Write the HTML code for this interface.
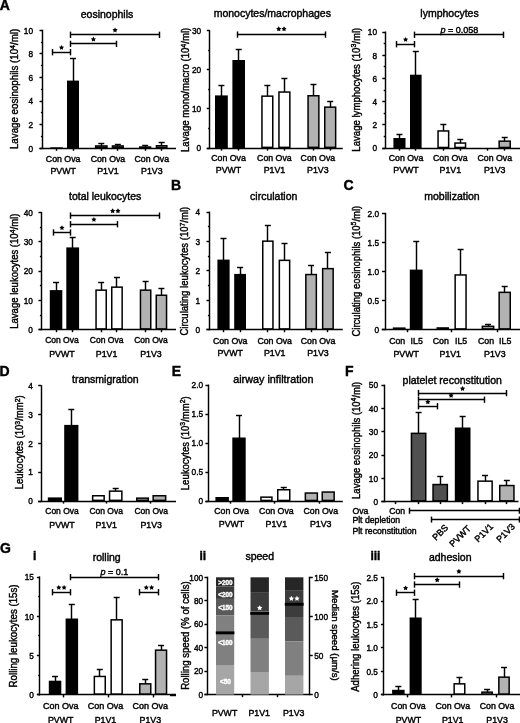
<!DOCTYPE html>
<html><head><meta charset="utf-8"><style>
html,body{margin:0;padding:0;background:#fff;}
body{width:520px;height:723px;overflow:hidden;}
svg{display:block;font-family:"Liberation Sans", sans-serif;filter:grayscale(1) blur(0.3px);}
text{stroke:#000;stroke-width:0.42px;}
</style></head><body>
<svg width="520" height="723" viewBox="0 0 520 723">
<rect width="520" height="723" fill="#fff"/>
<text x="-0.2" y="9.5" font-size="14" text-anchor="start" font-weight="bold" fill="#000" style="stroke:#000" >A</text>
<text x="171" y="189.7" font-size="14" text-anchor="start" font-weight="bold" fill="#000" style="stroke:#000" >B</text>
<text x="343.4" y="190" font-size="14" text-anchor="start" font-weight="bold" fill="#000" style="stroke:#000" >C</text>
<text x="-0.4" y="375.6" font-size="14" text-anchor="start" font-weight="bold" fill="#000" style="stroke:#000" >D</text>
<text x="171.8" y="375.9" font-size="14" text-anchor="start" font-weight="bold" fill="#000" style="stroke:#000" >E</text>
<text x="345" y="375.9" font-size="14" text-anchor="start" font-weight="bold" fill="#000" style="stroke:#000" >F</text>
<text x="0" y="553.1" font-size="14" text-anchor="start" font-weight="bold" fill="#000" style="stroke:#000" >G</text>
<text x="33" y="559.6" font-size="12" text-anchor="start" font-weight="bold" fill="#000" style="stroke:#000" >i</text>
<text x="199.4" y="559.6" font-size="12" text-anchor="start" font-weight="bold" fill="#000" style="stroke:#000" >ii</text>
<text x="370.4" y="559.7" font-size="12" text-anchor="start" font-weight="bold" fill="#000" style="stroke:#000" >iii</text>
<text x="107" y="17.5" font-size="10.5" text-anchor="middle" font-weight="normal" fill="#000" style="stroke:#000" >eosinophils</text>
<text x="272.3" y="16.9" font-size="10.5" text-anchor="middle" font-weight="normal" fill="#000" style="stroke:#000" >monocytes/macrophages</text>
<text x="449.5" y="16.9" font-size="10.5" text-anchor="middle" font-weight="normal" fill="#000" style="stroke:#000" >lymphocytes</text>
<text x="105.2" y="200" font-size="10.5" text-anchor="middle" font-weight="normal" fill="#000" style="stroke:#000" >total leukocytes</text>
<text x="273.7" y="199.5" font-size="10.5" text-anchor="middle" font-weight="normal" fill="#000" style="stroke:#000" >circulation</text>
<text x="452" y="199.5" font-size="10.5" text-anchor="middle" font-weight="normal" fill="#000" style="stroke:#000" >mobilization</text>
<text x="105.3" y="383.1" font-size="10.5" text-anchor="middle" font-weight="normal" fill="#000" style="stroke:#000" >transmigration</text>
<text x="273.4" y="383.1" font-size="10.8" text-anchor="middle" font-weight="normal" fill="#000" style="stroke:#000" >airway infiltration</text>
<text x="452.2" y="383.7" font-size="10.5" text-anchor="middle" font-weight="normal" fill="#000" style="stroke:#000" >platelet reconstitution</text>
<text x="106.7" y="561.3" font-size="10.5" text-anchor="middle" font-weight="normal" fill="#000" style="stroke:#000" >rolling</text>
<text x="259.7" y="560.3" font-size="10.5" text-anchor="middle" font-weight="normal" fill="#000" style="stroke:#000" >speed</text>
<text x="450.2" y="561" font-size="10.5" text-anchor="middle" font-weight="normal" fill="#000" style="stroke:#000" >adhesion</text>
<line x1="42.5" y1="29.7" x2="42.5" y2="148.9" stroke="#000" stroke-width="1.45"/>
<line x1="39.5" y1="148.5" x2="42.5" y2="148.5" stroke="#000" stroke-width="1.45"/>
<text x="33" y="151.5" font-size="9" text-anchor="end" font-weight="normal" fill="#000" style="stroke:#000" textLength="4.6" lengthAdjust="spacingAndGlyphs" >0</text>
<line x1="39.5" y1="124.5" x2="42.5" y2="124.5" stroke="#000" stroke-width="1.45"/>
<text x="33" y="127.9" font-size="9" text-anchor="end" font-weight="normal" fill="#000" style="stroke:#000" textLength="4.6" lengthAdjust="spacingAndGlyphs" >2</text>
<line x1="39.5" y1="101.5" x2="42.5" y2="101.5" stroke="#000" stroke-width="1.45"/>
<text x="33" y="104.3" font-size="9" text-anchor="end" font-weight="normal" fill="#000" style="stroke:#000" textLength="4.6" lengthAdjust="spacingAndGlyphs" >4</text>
<line x1="39.5" y1="77.5" x2="42.5" y2="77.5" stroke="#000" stroke-width="1.45"/>
<text x="33" y="80.7" font-size="9" text-anchor="end" font-weight="normal" fill="#000" style="stroke:#000" textLength="4.6" lengthAdjust="spacingAndGlyphs" >6</text>
<line x1="39.5" y1="53.5" x2="42.5" y2="53.5" stroke="#000" stroke-width="1.45"/>
<text x="33" y="57.1" font-size="9" text-anchor="end" font-weight="normal" fill="#000" style="stroke:#000" textLength="4.6" lengthAdjust="spacingAndGlyphs" >8</text>
<line x1="39.5" y1="30.5" x2="42.5" y2="30.5" stroke="#000" stroke-width="1.45"/>
<text x="33" y="33.5" font-size="9" text-anchor="end" font-weight="normal" fill="#000" style="stroke:#000" textLength="9.2" lengthAdjust="spacingAndGlyphs" >10</text>
<line x1="40.9" y1="136.5" x2="42.5" y2="136.5" stroke="#000" stroke-width="1.45"/>
<line x1="40.9" y1="112.5" x2="42.5" y2="112.5" stroke="#000" stroke-width="1.45"/>
<line x1="40.9" y1="89.5" x2="42.5" y2="89.5" stroke="#000" stroke-width="1.45"/>
<line x1="40.9" y1="65.5" x2="42.5" y2="65.5" stroke="#000" stroke-width="1.45"/>
<line x1="40.9" y1="42.5" x2="42.5" y2="42.5" stroke="#000" stroke-width="1.45"/>
<rect x="50.3" y="147.3" width="12.5" height="1" fill="#000"/>
<line x1="73.5" y1="58.5" x2="73.5" y2="81.6" stroke="#000" stroke-width="1.45"/>
<line x1="70" y1="58.5" x2="76" y2="58.5" stroke="#000" stroke-width="1.45"/>
<rect x="67" y="80.6" width="12" height="67.7" fill="#000"/>
<line x1="101.5" y1="143.6" x2="101.5" y2="146.2" stroke="#000" stroke-width="1.45"/>
<line x1="98.3" y1="143.5" x2="104.3" y2="143.5" stroke="#000" stroke-width="1.45"/>
<rect x="95.65" y="145.95" width="11.3" height="1.6" fill="#fff" stroke="#000" stroke-width="1.5"/>
<line x1="117.5" y1="144.2" x2="117.5" y2="146.2" stroke="#000" stroke-width="1.45"/>
<line x1="114.85" y1="144.5" x2="120.85" y2="144.5" stroke="#000" stroke-width="1.45"/>
<rect x="112.45" y="145.95" width="10.8" height="1.6" fill="#fff" stroke="#000" stroke-width="1.5"/>
<line x1="145.5" y1="145.5" x2="145.5" y2="147.3" stroke="#000" stroke-width="1.45"/>
<line x1="142.15" y1="145.5" x2="148.15" y2="145.5" stroke="#000" stroke-width="1.45"/>
<rect x="139.75" y="147.05" width="10.8" height="0.5" fill="#b2b2b2" stroke="#000" stroke-width="1.5"/>
<line x1="161.5" y1="142.3" x2="161.5" y2="146" stroke="#000" stroke-width="1.45"/>
<line x1="158.65" y1="142.5" x2="164.65" y2="142.5" stroke="#000" stroke-width="1.45"/>
<rect x="156.45" y="145.75" width="10.4" height="1.8" fill="#b2b2b2" stroke="#000" stroke-width="1.5"/>
<line x1="39.5" y1="148.5" x2="176" y2="148.5" stroke="#000" stroke-width="1.45"/>
<line x1="56.5" y1="148.3" x2="56.5" y2="150.8" stroke="#000" stroke-width="1.45"/>
<line x1="73.5" y1="148.3" x2="73.5" y2="150.8" stroke="#000" stroke-width="1.45"/>
<line x1="101.5" y1="148.3" x2="101.5" y2="150.8" stroke="#000" stroke-width="1.45"/>
<line x1="117.5" y1="148.3" x2="117.5" y2="150.8" stroke="#000" stroke-width="1.45"/>
<line x1="145.5" y1="148.3" x2="145.5" y2="150.8" stroke="#000" stroke-width="1.45"/>
<line x1="161.5" y1="148.3" x2="161.5" y2="150.8" stroke="#000" stroke-width="1.45"/>
<text x="63.15" y="161.6" font-size="8.8" text-anchor="middle" font-weight="normal" fill="#000" style="stroke:#000" textLength="34.6" lengthAdjust="spacingAndGlyphs" >Con Ova</text>
<text x="63.15" y="174" font-size="8.8" text-anchor="middle" font-weight="normal" fill="#000" style="stroke:#000" >PVWT</text>
<text x="107.95" y="161.6" font-size="8.8" text-anchor="middle" font-weight="normal" fill="#000" style="stroke:#000" textLength="34.6" lengthAdjust="spacingAndGlyphs" >Con Ova</text>
<text x="107.95" y="174" font-size="8.8" text-anchor="middle" font-weight="normal" fill="#000" style="stroke:#000" >P1V1</text>
<text x="151.8" y="161.6" font-size="8.8" text-anchor="middle" font-weight="normal" fill="#000" style="stroke:#000" textLength="34.6" lengthAdjust="spacingAndGlyphs" >Con Ova</text>
<text x="151.8" y="174" font-size="8.8" text-anchor="middle" font-weight="normal" fill="#000" style="stroke:#000" >P1V3</text>
<line x1="52.4" y1="52.5" x2="70.6" y2="52.5" stroke="#000" stroke-width="1.45"/>
<line x1="52.5" y1="49.05" x2="52.5" y2="55.35" stroke="#000" stroke-width="1.45"/>
<line x1="70.5" y1="49.05" x2="70.5" y2="55.35" stroke="#000" stroke-width="1.45"/>
<polygon points="61.5,44.9 62.33,46.46 64.07,46.77 62.84,48.03 63.09,49.78 61.5,49 59.91,49.78 60.16,48.03 58.93,46.77 60.67,46.46" fill="#000"/>
<line x1="70.6" y1="43.5" x2="116.2" y2="43.5" stroke="#000" stroke-width="1.45"/>
<line x1="70.5" y1="40.75" x2="70.5" y2="47.05" stroke="#000" stroke-width="1.45"/>
<line x1="116.5" y1="40.75" x2="116.5" y2="47.05" stroke="#000" stroke-width="1.45"/>
<polygon points="93.4,36.6 94.23,38.16 95.97,38.47 94.74,39.73 94.99,41.48 93.4,40.7 91.81,41.48 92.06,39.73 90.83,38.47 92.57,38.16" fill="#000"/>
<line x1="70.6" y1="34.5" x2="159.5" y2="34.5" stroke="#000" stroke-width="1.45"/>
<line x1="70.5" y1="31.65" x2="70.5" y2="37.95" stroke="#000" stroke-width="1.45"/>
<line x1="159.5" y1="31.65" x2="159.5" y2="37.95" stroke="#000" stroke-width="1.45"/>
<polygon points="115.05,27.5 115.88,29.06 117.62,29.37 116.39,30.63 116.64,32.38 115.05,31.6 113.46,32.38 113.71,30.63 112.48,29.37 114.22,29.06" fill="#000"/>
<text transform="translate(18.4,88.9) rotate(-90)" font-size="10.2" text-anchor="middle" textLength="120.3" lengthAdjust="spacingAndGlyphs">Lavage eosinophils (10<tspan dy="-3.37" font-size="7.34">4</tspan><tspan dy="3.37">/</tspan>ml)</text>
<line x1="209.5" y1="30" x2="209.5" y2="148.7" stroke="#000" stroke-width="1.45"/>
<line x1="206.8" y1="148.5" x2="209.8" y2="148.5" stroke="#000" stroke-width="1.45"/>
<text x="201.1" y="151.3" font-size="9" text-anchor="end" font-weight="normal" fill="#000" style="stroke:#000" textLength="4.6" lengthAdjust="spacingAndGlyphs" >0</text>
<line x1="206.8" y1="108.5" x2="209.8" y2="108.5" stroke="#000" stroke-width="1.45"/>
<text x="201.1" y="112.13" font-size="9" text-anchor="end" font-weight="normal" fill="#000" style="stroke:#000" textLength="9.2" lengthAdjust="spacingAndGlyphs" >10</text>
<line x1="206.8" y1="69.5" x2="209.8" y2="69.5" stroke="#000" stroke-width="1.45"/>
<text x="201.1" y="72.97" font-size="9" text-anchor="end" font-weight="normal" fill="#000" style="stroke:#000" textLength="9.2" lengthAdjust="spacingAndGlyphs" >20</text>
<line x1="206.8" y1="30.5" x2="209.8" y2="30.5" stroke="#000" stroke-width="1.45"/>
<text x="201.1" y="33.8" font-size="9" text-anchor="end" font-weight="normal" fill="#000" style="stroke:#000" textLength="9.2" lengthAdjust="spacingAndGlyphs" >30</text>
<line x1="208.2" y1="128.5" x2="209.8" y2="128.5" stroke="#000" stroke-width="1.45"/>
<line x1="208.2" y1="89.5" x2="209.8" y2="89.5" stroke="#000" stroke-width="1.45"/>
<line x1="208.2" y1="50.5" x2="209.8" y2="50.5" stroke="#000" stroke-width="1.45"/>
<line x1="221.5" y1="85.4" x2="221.5" y2="96.4" stroke="#000" stroke-width="1.45"/>
<line x1="218.4" y1="85.5" x2="224.4" y2="85.5" stroke="#000" stroke-width="1.45"/>
<rect x="215" y="95.4" width="12.8" height="52.7" fill="#000"/>
<line x1="238.5" y1="49" x2="238.5" y2="61" stroke="#000" stroke-width="1.45"/>
<line x1="235.7" y1="49.5" x2="241.7" y2="49.5" stroke="#000" stroke-width="1.45"/>
<rect x="232.4" y="60" width="12.6" height="88.1" fill="#000"/>
<line x1="267.5" y1="85.8" x2="267.5" y2="96.4" stroke="#000" stroke-width="1.45"/>
<line x1="264.35" y1="85.5" x2="270.35" y2="85.5" stroke="#000" stroke-width="1.45"/>
<rect x="261.95" y="96.15" width="10.8" height="51.2" fill="#fff" stroke="#000" stroke-width="1.5"/>
<line x1="284.5" y1="78" x2="284.5" y2="92.3" stroke="#000" stroke-width="1.45"/>
<line x1="281.4" y1="78.5" x2="287.4" y2="78.5" stroke="#000" stroke-width="1.45"/>
<rect x="278.95" y="92.05" width="10.9" height="55.3" fill="#fff" stroke="#000" stroke-width="1.5"/>
<line x1="313.5" y1="84.3" x2="313.5" y2="96" stroke="#000" stroke-width="1.45"/>
<line x1="310.45" y1="84.5" x2="316.45" y2="84.5" stroke="#000" stroke-width="1.45"/>
<rect x="308.05" y="95.75" width="10.8" height="51.6" fill="#b2b2b2" stroke="#000" stroke-width="1.5"/>
<line x1="330.5" y1="101.2" x2="330.5" y2="107.4" stroke="#000" stroke-width="1.45"/>
<line x1="327.2" y1="101.5" x2="333.2" y2="101.5" stroke="#000" stroke-width="1.45"/>
<rect x="324.75" y="107.15" width="10.9" height="40.2" fill="#b2b2b2" stroke="#000" stroke-width="1.5"/>
<line x1="206.8" y1="148.5" x2="342.8" y2="148.5" stroke="#000" stroke-width="1.45"/>
<line x1="221.5" y1="148.1" x2="221.5" y2="150.6" stroke="#000" stroke-width="1.45"/>
<line x1="238.5" y1="148.1" x2="238.5" y2="150.6" stroke="#000" stroke-width="1.45"/>
<line x1="267.5" y1="148.1" x2="267.5" y2="150.6" stroke="#000" stroke-width="1.45"/>
<line x1="284.5" y1="148.1" x2="284.5" y2="150.6" stroke="#000" stroke-width="1.45"/>
<line x1="313.5" y1="148.1" x2="313.5" y2="150.6" stroke="#000" stroke-width="1.45"/>
<line x1="330.5" y1="148.1" x2="330.5" y2="150.6" stroke="#000" stroke-width="1.45"/>
<text x="228.5" y="161.3" font-size="8.8" text-anchor="middle" font-weight="normal" fill="#000" style="stroke:#000" textLength="34.6" lengthAdjust="spacingAndGlyphs" >Con Ova</text>
<text x="228.5" y="173.2" font-size="8.8" text-anchor="middle" font-weight="normal" fill="#000" style="stroke:#000" >PVWT</text>
<text x="274.4" y="161.3" font-size="8.8" text-anchor="middle" font-weight="normal" fill="#000" style="stroke:#000" textLength="34.6" lengthAdjust="spacingAndGlyphs" >Con Ova</text>
<text x="274.4" y="173.2" font-size="8.8" text-anchor="middle" font-weight="normal" fill="#000" style="stroke:#000" >P1V1</text>
<text x="317.85" y="161.3" font-size="8.8" text-anchor="middle" font-weight="normal" fill="#000" style="stroke:#000" textLength="34.6" lengthAdjust="spacingAndGlyphs" >Con Ova</text>
<text x="317.85" y="173.2" font-size="8.8" text-anchor="middle" font-weight="normal" fill="#000" style="stroke:#000" >P1V3</text>
<line x1="237.3" y1="34.5" x2="325.5" y2="34.5" stroke="#000" stroke-width="1.45"/>
<line x1="237.5" y1="31.45" x2="237.5" y2="37.75" stroke="#000" stroke-width="1.45"/>
<line x1="325.5" y1="31.45" x2="325.5" y2="37.75" stroke="#000" stroke-width="1.45"/>
<polygon points="278.75,26.3 279.58,27.86 281.32,28.17 280.09,29.43 280.34,31.18 278.75,30.4 277.16,31.18 277.41,29.43 276.18,28.17 277.92,27.86" fill="#000"/>
<polygon points="284.05,26.3 284.88,27.86 286.62,28.17 285.39,29.43 285.64,31.18 284.05,30.4 282.46,31.18 282.71,29.43 281.48,28.17 283.22,27.86" fill="#000"/>
<text transform="translate(189.1,89.85) rotate(-90)" font-size="10.2" text-anchor="middle" textLength="124.3" lengthAdjust="spacingAndGlyphs">Lavage mono/macro (10<tspan dy="-3.37" font-size="7.34">4</tspan><tspan dy="3.37">/</tspan>ml)</text>
<line x1="385.5" y1="31.5" x2="385.5" y2="148.8" stroke="#000" stroke-width="1.45"/>
<line x1="382.3" y1="148.5" x2="385.3" y2="148.5" stroke="#000" stroke-width="1.45"/>
<text x="377" y="151.4" font-size="9" text-anchor="end" font-weight="normal" fill="#000" style="stroke:#000" textLength="4.6" lengthAdjust="spacingAndGlyphs" >0</text>
<line x1="382.3" y1="124.5" x2="385.3" y2="124.5" stroke="#000" stroke-width="1.45"/>
<text x="377" y="128.18" font-size="9" text-anchor="end" font-weight="normal" fill="#000" style="stroke:#000" textLength="4.6" lengthAdjust="spacingAndGlyphs" >2</text>
<line x1="382.3" y1="101.5" x2="385.3" y2="101.5" stroke="#000" stroke-width="1.45"/>
<text x="377" y="104.96" font-size="9" text-anchor="end" font-weight="normal" fill="#000" style="stroke:#000" textLength="4.6" lengthAdjust="spacingAndGlyphs" >4</text>
<line x1="382.3" y1="78.5" x2="385.3" y2="78.5" stroke="#000" stroke-width="1.45"/>
<text x="377" y="81.74" font-size="9" text-anchor="end" font-weight="normal" fill="#000" style="stroke:#000" textLength="4.6" lengthAdjust="spacingAndGlyphs" >6</text>
<line x1="382.3" y1="55.5" x2="385.3" y2="55.5" stroke="#000" stroke-width="1.45"/>
<text x="377" y="58.52" font-size="9" text-anchor="end" font-weight="normal" fill="#000" style="stroke:#000" textLength="4.6" lengthAdjust="spacingAndGlyphs" >8</text>
<line x1="382.3" y1="32.5" x2="385.3" y2="32.5" stroke="#000" stroke-width="1.45"/>
<text x="377" y="35.3" font-size="9" text-anchor="end" font-weight="normal" fill="#000" style="stroke:#000" textLength="9.2" lengthAdjust="spacingAndGlyphs" >10</text>
<line x1="383.7" y1="136.5" x2="385.3" y2="136.5" stroke="#000" stroke-width="1.45"/>
<line x1="383.7" y1="113.5" x2="385.3" y2="113.5" stroke="#000" stroke-width="1.45"/>
<line x1="383.7" y1="90.5" x2="385.3" y2="90.5" stroke="#000" stroke-width="1.45"/>
<line x1="383.7" y1="66.5" x2="385.3" y2="66.5" stroke="#000" stroke-width="1.45"/>
<line x1="383.7" y1="43.5" x2="385.3" y2="43.5" stroke="#000" stroke-width="1.45"/>
<line x1="399.5" y1="134.5" x2="399.5" y2="139" stroke="#000" stroke-width="1.45"/>
<line x1="396.45" y1="134.5" x2="402.45" y2="134.5" stroke="#000" stroke-width="1.45"/>
<rect x="393.4" y="138" width="12.1" height="10.2" fill="#000"/>
<line x1="415.5" y1="51.2" x2="415.5" y2="75.7" stroke="#000" stroke-width="1.45"/>
<line x1="412.8" y1="51.5" x2="418.8" y2="51.5" stroke="#000" stroke-width="1.45"/>
<rect x="410" y="74.7" width="11.6" height="73.5" fill="#000"/>
<line x1="443.5" y1="124.5" x2="443.5" y2="131.2" stroke="#000" stroke-width="1.45"/>
<line x1="440.35" y1="124.5" x2="446.35" y2="124.5" stroke="#000" stroke-width="1.45"/>
<rect x="438.05" y="130.95" width="10.6" height="16.5" fill="#fff" stroke="#000" stroke-width="1.5"/>
<line x1="460.5" y1="139.6" x2="460.5" y2="143.3" stroke="#000" stroke-width="1.45"/>
<line x1="457.25" y1="139.5" x2="463.25" y2="139.5" stroke="#000" stroke-width="1.45"/>
<rect x="454.95" y="143.05" width="10.6" height="4.4" fill="#fff" stroke="#000" stroke-width="1.5"/>
<line x1="504.5" y1="137.8" x2="504.5" y2="141.4" stroke="#000" stroke-width="1.45"/>
<line x1="501.7" y1="137.5" x2="507.7" y2="137.5" stroke="#000" stroke-width="1.45"/>
<rect x="499.15" y="141.15" width="11.1" height="6.3" fill="#b2b2b2" stroke="#000" stroke-width="1.5"/>
<line x1="382.3" y1="148.5" x2="520" y2="148.5" stroke="#000" stroke-width="1.45"/>
<line x1="399.5" y1="148.2" x2="399.5" y2="150.7" stroke="#000" stroke-width="1.45"/>
<line x1="415.5" y1="148.2" x2="415.5" y2="150.7" stroke="#000" stroke-width="1.45"/>
<line x1="443.5" y1="148.2" x2="443.5" y2="150.7" stroke="#000" stroke-width="1.45"/>
<line x1="460.5" y1="148.2" x2="460.5" y2="150.7" stroke="#000" stroke-width="1.45"/>
<line x1="487.5" y1="148.2" x2="487.5" y2="150.7" stroke="#000" stroke-width="1.45"/>
<line x1="504.5" y1="148.2" x2="504.5" y2="150.7" stroke="#000" stroke-width="1.45"/>
<text x="406" y="161.3" font-size="8.8" text-anchor="middle" font-weight="normal" fill="#000" style="stroke:#000" textLength="34.6" lengthAdjust="spacingAndGlyphs" >Con Ova</text>
<text x="406" y="173.2" font-size="8.8" text-anchor="middle" font-weight="normal" fill="#000" style="stroke:#000" >PVWT</text>
<text x="450.3" y="161.3" font-size="8.8" text-anchor="middle" font-weight="normal" fill="#000" style="stroke:#000" textLength="34.6" lengthAdjust="spacingAndGlyphs" >Con Ova</text>
<text x="450.3" y="173.2" font-size="8.8" text-anchor="middle" font-weight="normal" fill="#000" style="stroke:#000" >P1V1</text>
<text x="494.75" y="161.3" font-size="8.8" text-anchor="middle" font-weight="normal" fill="#000" style="stroke:#000" textLength="34.6" lengthAdjust="spacingAndGlyphs" >Con Ova</text>
<text x="494.75" y="173.2" font-size="8.8" text-anchor="middle" font-weight="normal" fill="#000" style="stroke:#000" >P1V3</text>
<line x1="396.3" y1="44.5" x2="414.9" y2="44.5" stroke="#000" stroke-width="1.45"/>
<line x1="396.5" y1="41.05" x2="396.5" y2="47.35" stroke="#000" stroke-width="1.45"/>
<line x1="414.5" y1="41.05" x2="414.5" y2="47.35" stroke="#000" stroke-width="1.45"/>
<polygon points="405.6,36.9 406.43,38.46 408.17,38.77 406.94,40.03 407.19,41.78 405.6,41 404.01,41.78 404.26,40.03 403.03,38.77 404.77,38.46" fill="#000"/>
<line x1="414.9" y1="34.5" x2="503.2" y2="34.5" stroke="#000" stroke-width="1.45"/>
<line x1="414.5" y1="31.65" x2="414.5" y2="37.95" stroke="#000" stroke-width="1.45"/>
<line x1="503.5" y1="31.65" x2="503.5" y2="37.95" stroke="#000" stroke-width="1.45"/>
<text x="459.4" y="32.7" font-size="9" text-anchor="middle" font-weight="normal" fill="#000" style="stroke:#000" ><tspan font-style="italic">p</tspan> = 0.058</text>
<text transform="translate(359.5,89.7) rotate(-90)" font-size="10.2" text-anchor="middle" textLength="124" lengthAdjust="spacingAndGlyphs">Lavage lymphocytes (10<tspan dy="-3.37" font-size="7.34">3</tspan><tspan dy="3.37">/</tspan>ml)</text>
<line x1="41.5" y1="212" x2="41.5" y2="330.3" stroke="#000" stroke-width="1.45"/>
<line x1="38.5" y1="329.5" x2="41.5" y2="329.5" stroke="#000" stroke-width="1.45"/>
<text x="32.9" y="332.9" font-size="9" text-anchor="end" font-weight="normal" fill="#000" style="stroke:#000" textLength="4.6" lengthAdjust="spacingAndGlyphs" >0</text>
<line x1="38.5" y1="300.5" x2="41.5" y2="300.5" stroke="#000" stroke-width="1.45"/>
<text x="32.9" y="303.62" font-size="9" text-anchor="end" font-weight="normal" fill="#000" style="stroke:#000" textLength="9.2" lengthAdjust="spacingAndGlyphs" >10</text>
<line x1="38.5" y1="271.5" x2="41.5" y2="271.5" stroke="#000" stroke-width="1.45"/>
<text x="32.9" y="274.35" font-size="9" text-anchor="end" font-weight="normal" fill="#000" style="stroke:#000" textLength="9.2" lengthAdjust="spacingAndGlyphs" >20</text>
<line x1="38.5" y1="241.5" x2="41.5" y2="241.5" stroke="#000" stroke-width="1.45"/>
<text x="32.9" y="245.07" font-size="9" text-anchor="end" font-weight="normal" fill="#000" style="stroke:#000" textLength="9.2" lengthAdjust="spacingAndGlyphs" >30</text>
<line x1="38.5" y1="212.5" x2="41.5" y2="212.5" stroke="#000" stroke-width="1.45"/>
<text x="32.9" y="215.8" font-size="9" text-anchor="end" font-weight="normal" fill="#000" style="stroke:#000" textLength="9.2" lengthAdjust="spacingAndGlyphs" >40</text>
<line x1="39.9" y1="315.5" x2="41.5" y2="315.5" stroke="#000" stroke-width="1.45"/>
<line x1="39.9" y1="285.5" x2="41.5" y2="285.5" stroke="#000" stroke-width="1.45"/>
<line x1="39.9" y1="256.5" x2="41.5" y2="256.5" stroke="#000" stroke-width="1.45"/>
<line x1="39.9" y1="227.5" x2="41.5" y2="227.5" stroke="#000" stroke-width="1.45"/>
<line x1="56.5" y1="282.7" x2="56.5" y2="291.1" stroke="#000" stroke-width="1.45"/>
<line x1="53.05" y1="282.5" x2="59.05" y2="282.5" stroke="#000" stroke-width="1.45"/>
<rect x="49.8" y="290.1" width="12.5" height="39.6" fill="#000"/>
<line x1="72.5" y1="237.9" x2="72.5" y2="248.4" stroke="#000" stroke-width="1.45"/>
<line x1="69.7" y1="237.5" x2="75.7" y2="237.5" stroke="#000" stroke-width="1.45"/>
<rect x="66.3" y="247.4" width="12.8" height="82.3" fill="#000"/>
<line x1="101.5" y1="282.7" x2="101.5" y2="290.4" stroke="#000" stroke-width="1.45"/>
<line x1="98.15" y1="282.5" x2="104.15" y2="282.5" stroke="#000" stroke-width="1.45"/>
<rect x="96.05" y="290.15" width="10.2" height="38.8" fill="#fff" stroke="#000" stroke-width="1.5"/>
<line x1="116.5" y1="277.3" x2="116.5" y2="287.4" stroke="#000" stroke-width="1.45"/>
<line x1="113.95" y1="277.5" x2="119.95" y2="277.5" stroke="#000" stroke-width="1.45"/>
<rect x="111.75" y="287.15" width="10.4" height="41.8" fill="#fff" stroke="#000" stroke-width="1.5"/>
<line x1="145.5" y1="281.7" x2="145.5" y2="290.4" stroke="#000" stroke-width="1.45"/>
<line x1="142.6" y1="281.5" x2="148.6" y2="281.5" stroke="#000" stroke-width="1.45"/>
<rect x="140.45" y="290.15" width="10.3" height="38.8" fill="#b2b2b2" stroke="#000" stroke-width="1.5"/>
<line x1="161.5" y1="288.8" x2="161.5" y2="295.5" stroke="#000" stroke-width="1.45"/>
<line x1="158.4" y1="288.5" x2="164.4" y2="288.5" stroke="#000" stroke-width="1.45"/>
<rect x="156.25" y="295.25" width="10.3" height="33.7" fill="#b2b2b2" stroke="#000" stroke-width="1.5"/>
<line x1="38.5" y1="329.5" x2="176" y2="329.5" stroke="#000" stroke-width="1.45"/>
<line x1="56.5" y1="329.7" x2="56.5" y2="332.2" stroke="#000" stroke-width="1.45"/>
<line x1="72.5" y1="329.7" x2="72.5" y2="332.2" stroke="#000" stroke-width="1.45"/>
<line x1="101.5" y1="329.7" x2="101.5" y2="332.2" stroke="#000" stroke-width="1.45"/>
<line x1="116.5" y1="329.7" x2="116.5" y2="332.2" stroke="#000" stroke-width="1.45"/>
<line x1="145.5" y1="329.7" x2="145.5" y2="332.2" stroke="#000" stroke-width="1.45"/>
<line x1="161.5" y1="329.7" x2="161.5" y2="332.2" stroke="#000" stroke-width="1.45"/>
<text x="61.95" y="343" font-size="8.8" text-anchor="middle" font-weight="normal" fill="#000" style="stroke:#000" textLength="33.6" lengthAdjust="spacingAndGlyphs" >Con Ova</text>
<text x="61.95" y="356.5" font-size="8.8" text-anchor="middle" font-weight="normal" fill="#000" style="stroke:#000" >PVWT</text>
<text x="106.6" y="343" font-size="8.8" text-anchor="middle" font-weight="normal" fill="#000" style="stroke:#000" textLength="33.6" lengthAdjust="spacingAndGlyphs" >Con Ova</text>
<text x="106.6" y="356.5" font-size="8.8" text-anchor="middle" font-weight="normal" fill="#000" style="stroke:#000" >P1V1</text>
<text x="151" y="343" font-size="8.8" text-anchor="middle" font-weight="normal" fill="#000" style="stroke:#000" textLength="33.6" lengthAdjust="spacingAndGlyphs" >Con Ova</text>
<text x="151" y="356.5" font-size="8.8" text-anchor="middle" font-weight="normal" fill="#000" style="stroke:#000" >P1V3</text>
<line x1="53.2" y1="232.5" x2="70.7" y2="232.5" stroke="#000" stroke-width="1.45"/>
<line x1="53.5" y1="229.35" x2="53.5" y2="235.65" stroke="#000" stroke-width="1.45"/>
<line x1="70.5" y1="229.35" x2="70.5" y2="235.65" stroke="#000" stroke-width="1.45"/>
<polygon points="61.95,225.2 62.78,226.76 64.52,227.07 63.29,228.33 63.54,230.08 61.95,229.3 60.36,230.08 60.61,228.33 59.38,227.07 61.12,226.76" fill="#000"/>
<line x1="70.7" y1="224.5" x2="117.1" y2="224.5" stroke="#000" stroke-width="1.45"/>
<line x1="70.5" y1="221.05" x2="70.5" y2="227.35" stroke="#000" stroke-width="1.45"/>
<line x1="117.5" y1="221.05" x2="117.5" y2="227.35" stroke="#000" stroke-width="1.45"/>
<polygon points="93.9,216.9 94.73,218.46 96.47,218.77 95.24,220.03 95.49,221.78 93.9,221 92.31,221.78 92.56,220.03 91.33,218.77 93.07,218.46" fill="#000"/>
<line x1="70.7" y1="215.5" x2="159.9" y2="215.5" stroke="#000" stroke-width="1.45"/>
<line x1="70.5" y1="212.45" x2="70.5" y2="218.75" stroke="#000" stroke-width="1.45"/>
<line x1="159.5" y1="212.45" x2="159.5" y2="218.75" stroke="#000" stroke-width="1.45"/>
<polygon points="112.65,208.3 113.48,209.86 115.22,210.17 113.99,211.43 114.24,213.18 112.65,212.4 111.06,213.18 111.31,211.43 110.08,210.17 111.82,209.86" fill="#000"/>
<polygon points="117.95,208.3 118.78,209.86 120.52,210.17 119.29,211.43 119.54,213.18 117.95,212.4 116.36,213.18 116.61,211.43 115.38,210.17 117.12,209.86" fill="#000"/>
<text transform="translate(18.4,271.2) rotate(-90)" font-size="10.2" text-anchor="middle" textLength="115.2" lengthAdjust="spacingAndGlyphs">Lavage leukocytes (10<tspan dy="-3.37" font-size="7.34">4</tspan><tspan dy="3.37">/</tspan>ml)</text>
<line x1="209.5" y1="211.6" x2="209.5" y2="330.3" stroke="#000" stroke-width="1.45"/>
<line x1="206.5" y1="329.5" x2="209.5" y2="329.5" stroke="#000" stroke-width="1.45"/>
<text x="200.2" y="332.9" font-size="9" text-anchor="end" font-weight="normal" fill="#000" style="stroke:#000" textLength="4.6" lengthAdjust="spacingAndGlyphs" >0</text>
<line x1="206.5" y1="300.5" x2="209.5" y2="300.5" stroke="#000" stroke-width="1.45"/>
<text x="200.2" y="303.52" font-size="9" text-anchor="end" font-weight="normal" fill="#000" style="stroke:#000" textLength="4.6" lengthAdjust="spacingAndGlyphs" >1</text>
<line x1="206.5" y1="270.5" x2="209.5" y2="270.5" stroke="#000" stroke-width="1.45"/>
<text x="200.2" y="274.15" font-size="9" text-anchor="end" font-weight="normal" fill="#000" style="stroke:#000" textLength="4.6" lengthAdjust="spacingAndGlyphs" >2</text>
<line x1="206.5" y1="241.5" x2="209.5" y2="241.5" stroke="#000" stroke-width="1.45"/>
<text x="200.2" y="244.77" font-size="9" text-anchor="end" font-weight="normal" fill="#000" style="stroke:#000" textLength="4.6" lengthAdjust="spacingAndGlyphs" >3</text>
<line x1="206.5" y1="212.5" x2="209.5" y2="212.5" stroke="#000" stroke-width="1.45"/>
<text x="200.2" y="215.4" font-size="9" text-anchor="end" font-weight="normal" fill="#000" style="stroke:#000" textLength="4.6" lengthAdjust="spacingAndGlyphs" >4</text>
<line x1="207.9" y1="315.5" x2="209.5" y2="315.5" stroke="#000" stroke-width="1.45"/>
<line x1="207.9" y1="285.5" x2="209.5" y2="285.5" stroke="#000" stroke-width="1.45"/>
<line x1="207.9" y1="256.5" x2="209.5" y2="256.5" stroke="#000" stroke-width="1.45"/>
<line x1="207.9" y1="226.5" x2="209.5" y2="226.5" stroke="#000" stroke-width="1.45"/>
<line x1="223.5" y1="238.5" x2="223.5" y2="260.6" stroke="#000" stroke-width="1.45"/>
<line x1="220.5" y1="238.5" x2="226.5" y2="238.5" stroke="#000" stroke-width="1.45"/>
<rect x="217.4" y="259.6" width="12.2" height="70.1" fill="#000"/>
<line x1="240.5" y1="267.1" x2="240.5" y2="274.9" stroke="#000" stroke-width="1.45"/>
<line x1="237.1" y1="267.5" x2="243.1" y2="267.5" stroke="#000" stroke-width="1.45"/>
<rect x="234.2" y="273.9" width="11.8" height="55.8" fill="#000"/>
<line x1="267.5" y1="225.7" x2="267.5" y2="241.4" stroke="#000" stroke-width="1.45"/>
<line x1="264.85" y1="225.5" x2="270.85" y2="225.5" stroke="#000" stroke-width="1.45"/>
<rect x="262.75" y="241.15" width="10.2" height="87.8" fill="#fff" stroke="#000" stroke-width="1.5"/>
<line x1="284.5" y1="243.2" x2="284.5" y2="260.6" stroke="#000" stroke-width="1.45"/>
<line x1="281.5" y1="243.5" x2="287.5" y2="243.5" stroke="#000" stroke-width="1.45"/>
<rect x="279.35" y="260.35" width="10.3" height="68.6" fill="#fff" stroke="#000" stroke-width="1.5"/>
<line x1="311.5" y1="265.8" x2="311.5" y2="274.8" stroke="#000" stroke-width="1.45"/>
<line x1="308.1" y1="265.5" x2="314.1" y2="265.5" stroke="#000" stroke-width="1.45"/>
<rect x="305.85" y="274.55" width="10.5" height="54.4" fill="#b2b2b2" stroke="#000" stroke-width="1.5"/>
<line x1="327.5" y1="252.3" x2="327.5" y2="268.9" stroke="#000" stroke-width="1.45"/>
<line x1="324.9" y1="252.5" x2="330.9" y2="252.5" stroke="#000" stroke-width="1.45"/>
<rect x="322.65" y="268.65" width="10.5" height="60.3" fill="#b2b2b2" stroke="#000" stroke-width="1.5"/>
<line x1="206.5" y1="329.5" x2="342.8" y2="329.5" stroke="#000" stroke-width="1.45"/>
<line x1="223.5" y1="329.7" x2="223.5" y2="332.2" stroke="#000" stroke-width="1.45"/>
<line x1="240.5" y1="329.7" x2="240.5" y2="332.2" stroke="#000" stroke-width="1.45"/>
<line x1="267.5" y1="329.7" x2="267.5" y2="332.2" stroke="#000" stroke-width="1.45"/>
<line x1="284.5" y1="329.7" x2="284.5" y2="332.2" stroke="#000" stroke-width="1.45"/>
<line x1="311.5" y1="329.7" x2="311.5" y2="332.2" stroke="#000" stroke-width="1.45"/>
<line x1="327.5" y1="329.7" x2="327.5" y2="332.2" stroke="#000" stroke-width="1.45"/>
<text x="230.2" y="344" font-size="8.8" text-anchor="middle" font-weight="normal" fill="#000" style="stroke:#000" textLength="34.6" lengthAdjust="spacingAndGlyphs" >Con Ova</text>
<text x="230.2" y="356.2" font-size="8.8" text-anchor="middle" font-weight="normal" fill="#000" style="stroke:#000" >PVWT</text>
<text x="274.7" y="344" font-size="8.8" text-anchor="middle" font-weight="normal" fill="#000" style="stroke:#000" textLength="34.6" lengthAdjust="spacingAndGlyphs" >Con Ova</text>
<text x="274.7" y="356.2" font-size="8.8" text-anchor="middle" font-weight="normal" fill="#000" style="stroke:#000" >P1V1</text>
<text x="318" y="344" font-size="8.8" text-anchor="middle" font-weight="normal" fill="#000" style="stroke:#000" textLength="34.6" lengthAdjust="spacingAndGlyphs" >Con Ova</text>
<text x="318" y="356.2" font-size="8.8" text-anchor="middle" font-weight="normal" fill="#000" style="stroke:#000" >P1V3</text>
<text transform="translate(187.9,271.2) rotate(-90)" font-size="10.2" text-anchor="middle" textLength="128.8" lengthAdjust="spacingAndGlyphs">Circulating leukocytes (10<tspan dy="-3.37" font-size="7.34">7</tspan><tspan dy="3.37">/</tspan>ml)</text>
<line x1="385.5" y1="212.8" x2="385.5" y2="330.3" stroke="#000" stroke-width="1.45"/>
<line x1="382" y1="329.5" x2="385" y2="329.5" stroke="#000" stroke-width="1.45"/>
<text x="379.1" y="332.9" font-size="9" text-anchor="end" font-weight="normal" fill="#000" style="stroke:#000" textLength="4.6" lengthAdjust="spacingAndGlyphs" >0</text>
<line x1="382" y1="300.5" x2="385" y2="300.5" stroke="#000" stroke-width="1.45"/>
<text x="379.1" y="303.82" font-size="9" text-anchor="end" font-weight="normal" fill="#000" style="stroke:#000" textLength="11.5" lengthAdjust="spacingAndGlyphs" >0.5</text>
<line x1="382" y1="271.5" x2="385" y2="271.5" stroke="#000" stroke-width="1.45"/>
<text x="379.1" y="274.75" font-size="9" text-anchor="end" font-weight="normal" fill="#000" style="stroke:#000" textLength="11.5" lengthAdjust="spacingAndGlyphs" >1.0</text>
<line x1="382" y1="242.5" x2="385" y2="242.5" stroke="#000" stroke-width="1.45"/>
<text x="379.1" y="245.67" font-size="9" text-anchor="end" font-weight="normal" fill="#000" style="stroke:#000" textLength="11.5" lengthAdjust="spacingAndGlyphs" >1.5</text>
<line x1="382" y1="213.5" x2="385" y2="213.5" stroke="#000" stroke-width="1.45"/>
<text x="379.1" y="216.6" font-size="9" text-anchor="end" font-weight="normal" fill="#000" style="stroke:#000" textLength="11.5" lengthAdjust="spacingAndGlyphs" >2.0</text>
<rect x="392.8" y="327.4" width="12.8" height="2.3" fill="#000"/>
<line x1="416.5" y1="241.2" x2="416.5" y2="270.6" stroke="#000" stroke-width="1.45"/>
<line x1="413.2" y1="241.5" x2="419.2" y2="241.5" stroke="#000" stroke-width="1.45"/>
<rect x="409.8" y="269.6" width="12.8" height="60.1" fill="#000"/>
<rect x="437.25" y="327.95" width="11" height="1" fill="#fff" stroke="#000" stroke-width="1.5"/>
<line x1="460.5" y1="249.7" x2="460.5" y2="275.2" stroke="#000" stroke-width="1.45"/>
<line x1="457.6" y1="249.5" x2="463.6" y2="249.5" stroke="#000" stroke-width="1.45"/>
<rect x="455.15" y="274.95" width="10.9" height="54" fill="#fff" stroke="#000" stroke-width="1.5"/>
<line x1="488.5" y1="324" x2="488.5" y2="326.6" stroke="#000" stroke-width="1.45"/>
<line x1="485" y1="324.5" x2="491" y2="324.5" stroke="#000" stroke-width="1.45"/>
<rect x="482.35" y="326.35" width="11.3" height="2.6" fill="#b2b2b2" stroke="#000" stroke-width="1.5"/>
<line x1="504.5" y1="286.6" x2="504.5" y2="292.6" stroke="#000" stroke-width="1.45"/>
<line x1="501.7" y1="286.5" x2="507.7" y2="286.5" stroke="#000" stroke-width="1.45"/>
<rect x="499.15" y="292.35" width="11.1" height="36.6" fill="#b2b2b2" stroke="#000" stroke-width="1.5"/>
<line x1="381.7" y1="329.5" x2="520" y2="329.5" stroke="#000" stroke-width="1.45"/>
<line x1="407.5" y1="329.7" x2="407.5" y2="332.2" stroke="#000" stroke-width="1.45"/>
<line x1="451.5" y1="329.7" x2="451.5" y2="332.2" stroke="#000" stroke-width="1.45"/>
<line x1="497.5" y1="329.7" x2="497.5" y2="332.2" stroke="#000" stroke-width="1.45"/>
<text x="397.2" y="344.3" font-size="8.8" text-anchor="middle" font-weight="normal" fill="#000" style="stroke:#000" >Con</text>
<text x="416.7" y="344.3" font-size="8.8" text-anchor="middle" font-weight="normal" fill="#000" style="stroke:#000" >IL5</text>
<text x="406.2" y="357.3" font-size="8.8" text-anchor="middle" font-weight="normal" fill="#000" style="stroke:#000" >PVWT</text>
<text x="440.75" y="344.3" font-size="8.8" text-anchor="middle" font-weight="normal" fill="#000" style="stroke:#000" >Con</text>
<text x="461.1" y="344.3" font-size="8.8" text-anchor="middle" font-weight="normal" fill="#000" style="stroke:#000" >IL5</text>
<text x="450.15" y="357.3" font-size="8.8" text-anchor="middle" font-weight="normal" fill="#000" style="stroke:#000" >P1V1</text>
<text x="486" y="344.3" font-size="8.8" text-anchor="middle" font-weight="normal" fill="#000" style="stroke:#000" >Con</text>
<text x="505.2" y="344.3" font-size="8.8" text-anchor="middle" font-weight="normal" fill="#000" style="stroke:#000" >IL5</text>
<text x="494.8" y="357.3" font-size="8.8" text-anchor="middle" font-weight="normal" fill="#000" style="stroke:#000" >P1V3</text>
<text transform="translate(359.5,271.15) rotate(-90)" font-size="10.2" text-anchor="middle" textLength="130.7" lengthAdjust="spacingAndGlyphs">Circulating eosinophils (10<tspan dy="-3.37" font-size="7.34">5</tspan><tspan dy="3.37">/</tspan>ml)</text>
<line x1="41.5" y1="385.2" x2="41.5" y2="501.7" stroke="#000" stroke-width="1.45"/>
<line x1="38.2" y1="501.5" x2="41.2" y2="501.5" stroke="#000" stroke-width="1.45"/>
<text x="32.9" y="504.3" font-size="9" text-anchor="end" font-weight="normal" fill="#000" style="stroke:#000" textLength="4.6" lengthAdjust="spacingAndGlyphs" >0</text>
<line x1="38.2" y1="472.5" x2="41.2" y2="472.5" stroke="#000" stroke-width="1.45"/>
<text x="32.9" y="475.48" font-size="9" text-anchor="end" font-weight="normal" fill="#000" style="stroke:#000" textLength="4.6" lengthAdjust="spacingAndGlyphs" >1</text>
<line x1="38.2" y1="443.5" x2="41.2" y2="443.5" stroke="#000" stroke-width="1.45"/>
<text x="32.9" y="446.65" font-size="9" text-anchor="end" font-weight="normal" fill="#000" style="stroke:#000" textLength="4.6" lengthAdjust="spacingAndGlyphs" >2</text>
<line x1="38.2" y1="414.5" x2="41.2" y2="414.5" stroke="#000" stroke-width="1.45"/>
<text x="32.9" y="417.82" font-size="9" text-anchor="end" font-weight="normal" fill="#000" style="stroke:#000" textLength="4.6" lengthAdjust="spacingAndGlyphs" >3</text>
<line x1="38.2" y1="385.5" x2="41.2" y2="385.5" stroke="#000" stroke-width="1.45"/>
<text x="32.9" y="389" font-size="9" text-anchor="end" font-weight="normal" fill="#000" style="stroke:#000" textLength="4.6" lengthAdjust="spacingAndGlyphs" >4</text>
<rect x="47.8" y="497.4" width="14.2" height="3.7" fill="#000"/>
<line x1="71.5" y1="409.3" x2="71.5" y2="425.9" stroke="#000" stroke-width="1.45"/>
<line x1="68.3" y1="409.5" x2="74.3" y2="409.5" stroke="#000" stroke-width="1.45"/>
<rect x="64.2" y="424.9" width="14.2" height="76.2" fill="#000"/>
<rect x="92.65" y="495.75" width="11.5" height="4.6" fill="#fff" stroke="#000" stroke-width="1.5"/>
<line x1="115.5" y1="488.7" x2="115.5" y2="491.4" stroke="#000" stroke-width="1.45"/>
<line x1="112.7" y1="488.5" x2="118.7" y2="488.5" stroke="#000" stroke-width="1.45"/>
<rect x="109.55" y="491.15" width="12.3" height="9.2" fill="#fff" stroke="#000" stroke-width="1.5"/>
<rect x="136.75" y="498.15" width="11.5" height="2.2" fill="#b2b2b2" stroke="#000" stroke-width="1.5"/>
<rect x="153.15" y="495.75" width="12.5" height="4.6" fill="#b2b2b2" stroke="#000" stroke-width="1.5"/>
<line x1="38.2" y1="501.5" x2="176" y2="501.5" stroke="#000" stroke-width="1.45"/>
<line x1="63.5" y1="501.1" x2="63.5" y2="503.6" stroke="#000" stroke-width="1.45"/>
<line x1="106.5" y1="501.1" x2="106.5" y2="503.6" stroke="#000" stroke-width="1.45"/>
<line x1="150.5" y1="501.1" x2="150.5" y2="503.6" stroke="#000" stroke-width="1.45"/>
<text x="62" y="513.7" font-size="8.8" text-anchor="middle" font-weight="normal" fill="#000" style="stroke:#000" textLength="33.4" lengthAdjust="spacingAndGlyphs" >Con Ova</text>
<text x="62" y="527.5" font-size="8.8" text-anchor="middle" font-weight="normal" fill="#000" style="stroke:#000" >PVWT</text>
<text x="106.15" y="513.7" font-size="8.8" text-anchor="middle" font-weight="normal" fill="#000" style="stroke:#000" textLength="33.4" lengthAdjust="spacingAndGlyphs" >Con Ova</text>
<text x="106.15" y="527.5" font-size="8.8" text-anchor="middle" font-weight="normal" fill="#000" style="stroke:#000" >P1V1</text>
<text x="151.2" y="513.7" font-size="8.8" text-anchor="middle" font-weight="normal" fill="#000" style="stroke:#000" textLength="33.4" lengthAdjust="spacingAndGlyphs" >Con Ova</text>
<text x="151.2" y="527.5" font-size="8.8" text-anchor="middle" font-weight="normal" fill="#000" style="stroke:#000" >P1V3</text>
<text transform="translate(23.2,442.3) rotate(-90)" font-size="10.2" text-anchor="middle" textLength="94" lengthAdjust="spacingAndGlyphs">Leukocytes (10<tspan dy="-3.37" font-size="7.34">3</tspan><tspan dy="3.37">/</tspan>mm<tspan dy="-3.37" font-size="7.34">2</tspan><tspan dy="3.37">)</tspan></text>
<line x1="208.5" y1="384.5" x2="208.5" y2="501.8" stroke="#000" stroke-width="1.45"/>
<line x1="205.4" y1="501.5" x2="208.4" y2="501.5" stroke="#000" stroke-width="1.45"/>
<text x="203.1" y="504.4" font-size="9" text-anchor="end" font-weight="normal" fill="#000" style="stroke:#000" textLength="4.6" lengthAdjust="spacingAndGlyphs" >0</text>
<line x1="205.4" y1="472.5" x2="208.4" y2="472.5" stroke="#000" stroke-width="1.45"/>
<text x="203.1" y="475.38" font-size="9" text-anchor="end" font-weight="normal" fill="#000" style="stroke:#000" textLength="11.5" lengthAdjust="spacingAndGlyphs" >0.5</text>
<line x1="205.4" y1="443.5" x2="208.4" y2="443.5" stroke="#000" stroke-width="1.45"/>
<text x="203.1" y="446.35" font-size="9" text-anchor="end" font-weight="normal" fill="#000" style="stroke:#000" textLength="11.5" lengthAdjust="spacingAndGlyphs" >1.0</text>
<line x1="205.4" y1="414.5" x2="208.4" y2="414.5" stroke="#000" stroke-width="1.45"/>
<text x="203.1" y="417.32" font-size="9" text-anchor="end" font-weight="normal" fill="#000" style="stroke:#000" textLength="11.5" lengthAdjust="spacingAndGlyphs" >1.5</text>
<line x1="205.4" y1="385.5" x2="208.4" y2="385.5" stroke="#000" stroke-width="1.45"/>
<text x="203.1" y="388.3" font-size="9" text-anchor="end" font-weight="normal" fill="#000" style="stroke:#000" textLength="11.5" lengthAdjust="spacingAndGlyphs" >2.0</text>
<rect x="215.4" y="497" width="13.5" height="4.2" fill="#000"/>
<line x1="239.5" y1="415.6" x2="239.5" y2="438.5" stroke="#000" stroke-width="1.45"/>
<line x1="236" y1="415.5" x2="242" y2="415.5" stroke="#000" stroke-width="1.45"/>
<rect x="232.3" y="437.5" width="13.4" height="63.7" fill="#000"/>
<rect x="260.95" y="497.15" width="11" height="3.3" fill="#fff" stroke="#000" stroke-width="1.5"/>
<line x1="283.5" y1="487.3" x2="283.5" y2="490" stroke="#000" stroke-width="1.45"/>
<line x1="280.75" y1="487.5" x2="286.75" y2="487.5" stroke="#000" stroke-width="1.45"/>
<rect x="277.75" y="489.75" width="12" height="10.7" fill="#fff" stroke="#000" stroke-width="1.5"/>
<rect x="305.35" y="493.05" width="12" height="7.4" fill="#b2b2b2" stroke="#000" stroke-width="1.5"/>
<rect x="322.25" y="492.05" width="11.9" height="8.4" fill="#b2b2b2" stroke="#000" stroke-width="1.5"/>
<line x1="205.4" y1="501.5" x2="342.8" y2="501.5" stroke="#000" stroke-width="1.45"/>
<line x1="230.5" y1="501.2" x2="230.5" y2="503.7" stroke="#000" stroke-width="1.45"/>
<line x1="274.5" y1="501.2" x2="274.5" y2="503.7" stroke="#000" stroke-width="1.45"/>
<line x1="319.5" y1="501.2" x2="319.5" y2="503.7" stroke="#000" stroke-width="1.45"/>
<text x="231.55" y="513.8" font-size="8.8" text-anchor="middle" font-weight="normal" fill="#000" style="stroke:#000" textLength="34.6" lengthAdjust="spacingAndGlyphs" >Con Ova</text>
<text x="231.55" y="527" font-size="8.8" text-anchor="middle" font-weight="normal" fill="#000" style="stroke:#000" >PVWT</text>
<text x="276.35" y="513.8" font-size="8.8" text-anchor="middle" font-weight="normal" fill="#000" style="stroke:#000" textLength="34.6" lengthAdjust="spacingAndGlyphs" >Con Ova</text>
<text x="276.35" y="527" font-size="8.8" text-anchor="middle" font-weight="normal" fill="#000" style="stroke:#000" >P1V1</text>
<text x="320.75" y="513.8" font-size="8.8" text-anchor="middle" font-weight="normal" fill="#000" style="stroke:#000" textLength="34.6" lengthAdjust="spacingAndGlyphs" >Con Ova</text>
<text x="320.75" y="527" font-size="8.8" text-anchor="middle" font-weight="normal" fill="#000" style="stroke:#000" >P1V3</text>
<text transform="translate(188.5,443.25) rotate(-90)" font-size="10.2" text-anchor="middle" textLength="93.9" lengthAdjust="spacingAndGlyphs">Leukocytes (10<tspan dy="-3.37" font-size="7.34">3</tspan><tspan dy="3.37">/</tspan>mm<tspan dy="-3.37" font-size="7.34">2</tspan><tspan dy="3.37">)</tspan></text>
<line x1="384.5" y1="384.6" x2="384.5" y2="502.2" stroke="#000" stroke-width="1.45"/>
<line x1="381.4" y1="501.5" x2="384.4" y2="501.5" stroke="#000" stroke-width="1.45"/>
<text x="378" y="504.8" font-size="9" text-anchor="end" font-weight="normal" fill="#000" style="stroke:#000" textLength="4.6" lengthAdjust="spacingAndGlyphs" >0</text>
<line x1="381.4" y1="478.5" x2="384.4" y2="478.5" stroke="#000" stroke-width="1.45"/>
<text x="378" y="481.52" font-size="9" text-anchor="end" font-weight="normal" fill="#000" style="stroke:#000" textLength="9.2" lengthAdjust="spacingAndGlyphs" >10</text>
<line x1="381.4" y1="455.5" x2="384.4" y2="455.5" stroke="#000" stroke-width="1.45"/>
<text x="378" y="458.24" font-size="9" text-anchor="end" font-weight="normal" fill="#000" style="stroke:#000" textLength="9.2" lengthAdjust="spacingAndGlyphs" >20</text>
<line x1="381.4" y1="431.5" x2="384.4" y2="431.5" stroke="#000" stroke-width="1.45"/>
<text x="378" y="434.96" font-size="9" text-anchor="end" font-weight="normal" fill="#000" style="stroke:#000" textLength="9.2" lengthAdjust="spacingAndGlyphs" >30</text>
<line x1="381.4" y1="408.5" x2="384.4" y2="408.5" stroke="#000" stroke-width="1.45"/>
<text x="378" y="411.68" font-size="9" text-anchor="end" font-weight="normal" fill="#000" style="stroke:#000" textLength="9.2" lengthAdjust="spacingAndGlyphs" >40</text>
<line x1="381.4" y1="385.5" x2="384.4" y2="385.5" stroke="#000" stroke-width="1.45"/>
<text x="378" y="388.4" font-size="9" text-anchor="end" font-weight="normal" fill="#000" style="stroke:#000" textLength="9.2" lengthAdjust="spacingAndGlyphs" >50</text>
<line x1="418.5" y1="412.4" x2="418.5" y2="433.6" stroke="#000" stroke-width="1.45"/>
<line x1="415.6" y1="412.5" x2="421.6" y2="412.5" stroke="#000" stroke-width="1.45"/>
<rect x="411.45" y="433.35" width="14.3" height="67.5" fill="#505050" stroke="#000" stroke-width="1.5"/>
<line x1="440.5" y1="476.6" x2="440.5" y2="484.8" stroke="#000" stroke-width="1.45"/>
<line x1="437.2" y1="476.5" x2="443.2" y2="476.5" stroke="#000" stroke-width="1.45"/>
<rect x="433.05" y="484.55" width="14.3" height="16.3" fill="#505050" stroke="#000" stroke-width="1.5"/>
<line x1="462.5" y1="416.7" x2="462.5" y2="428.5" stroke="#000" stroke-width="1.45"/>
<line x1="459.65" y1="416.5" x2="465.65" y2="416.5" stroke="#000" stroke-width="1.45"/>
<rect x="454.8" y="427.5" width="15.7" height="74.1" fill="#000"/>
<line x1="485.5" y1="475.4" x2="485.5" y2="481.4" stroke="#000" stroke-width="1.45"/>
<line x1="482.05" y1="475.5" x2="488.05" y2="475.5" stroke="#000" stroke-width="1.45"/>
<rect x="477.95" y="481.15" width="14.2" height="19.7" fill="#fff" stroke="#000" stroke-width="1.5"/>
<line x1="506.5" y1="480" x2="506.5" y2="485.8" stroke="#000" stroke-width="1.45"/>
<line x1="503.85" y1="480.5" x2="509.85" y2="480.5" stroke="#000" stroke-width="1.45"/>
<rect x="499.75" y="485.55" width="14.2" height="15.3" fill="#b2b2b2" stroke="#000" stroke-width="1.5"/>
<line x1="381.4" y1="501.5" x2="518.5" y2="501.5" stroke="#000" stroke-width="1.45"/>
<line x1="395.5" y1="501.6" x2="395.5" y2="504.1" stroke="#000" stroke-width="1.45"/>
<line x1="418.5" y1="501.6" x2="418.5" y2="504.1" stroke="#000" stroke-width="1.45"/>
<line x1="440.5" y1="501.6" x2="440.5" y2="504.1" stroke="#000" stroke-width="1.45"/>
<line x1="462.5" y1="501.6" x2="462.5" y2="504.1" stroke="#000" stroke-width="1.45"/>
<line x1="485.5" y1="501.6" x2="485.5" y2="504.1" stroke="#000" stroke-width="1.45"/>
<line x1="506.5" y1="501.6" x2="506.5" y2="504.1" stroke="#000" stroke-width="1.45"/>
<line x1="418.2" y1="406.5" x2="437.5" y2="406.5" stroke="#000" stroke-width="1.45"/>
<line x1="418.5" y1="403.05" x2="418.5" y2="409.35" stroke="#000" stroke-width="1.45"/>
<line x1="437.5" y1="403.05" x2="437.5" y2="409.35" stroke="#000" stroke-width="1.45"/>
<polygon points="427.85,399.3 428.68,400.86 430.42,401.17 429.19,402.43 429.44,404.18 427.85,403.4 426.26,404.18 426.51,402.43 425.28,401.17 427.02,400.86" fill="#000"/>
<line x1="418.2" y1="399.5" x2="484" y2="399.5" stroke="#000" stroke-width="1.45"/>
<line x1="418.5" y1="396.55" x2="418.5" y2="402.85" stroke="#000" stroke-width="1.45"/>
<line x1="484.5" y1="396.55" x2="484.5" y2="402.85" stroke="#000" stroke-width="1.45"/>
<polygon points="451.1,392.8 451.93,394.36 453.67,394.67 452.44,395.93 452.69,397.68 451.1,396.9 449.51,397.68 449.76,395.93 448.53,394.67 450.27,394.36" fill="#000"/>
<line x1="418.2" y1="393.5" x2="506.9" y2="393.5" stroke="#000" stroke-width="1.45"/>
<line x1="418.5" y1="389.95" x2="418.5" y2="396.25" stroke="#000" stroke-width="1.45"/>
<line x1="506.5" y1="389.95" x2="506.5" y2="396.25" stroke="#000" stroke-width="1.45"/>
<polygon points="462.55,386 463.38,387.56 465.12,387.87 463.89,389.13 464.14,390.88 462.55,390.1 460.96,390.88 461.21,389.13 459.98,387.87 461.72,387.56" fill="#000"/>
<text transform="translate(359.5,440.35) rotate(-90)" font-size="10.2" text-anchor="middle" textLength="117.1" lengthAdjust="spacingAndGlyphs">Lavage eosinophils (10<tspan dy="-3.37" font-size="7.34">4</tspan><tspan dy="3.37">/</tspan>ml)</text>
<text x="352.4" y="514.1" font-size="8.7" text-anchor="start" font-weight="normal" fill="#000" style="stroke:#000" >Ova</text>
<text x="389.2" y="514.1" font-size="8.7" text-anchor="start" font-weight="normal" fill="#000" style="stroke:#000" >Con</text>
<line x1="409.5" y1="510.5" x2="520" y2="510.5" stroke="#000" stroke-width="1.45"/>
<line x1="409.5" y1="507.8" x2="409.5" y2="513.8" stroke="#000" stroke-width="1.45"/>
<line x1="519.5" y1="507.8" x2="519.5" y2="513.8" stroke="#000" stroke-width="1.6"/>
<text x="352.4" y="523.3" font-size="8.7" text-anchor="start" font-weight="normal" fill="#000" style="stroke:#000" >Plt depletion</text>
<line x1="431.4" y1="519.5" x2="520" y2="519.5" stroke="#000" stroke-width="1.45"/>
<line x1="431.5" y1="516.6" x2="431.5" y2="522.6" stroke="#000" stroke-width="1.45"/>
<line x1="519.5" y1="516.6" x2="519.5" y2="522.6" stroke="#000" stroke-width="1.6"/>
<text x="352.4" y="533.7" font-size="8.7" text-anchor="start" font-weight="normal" fill="#000" style="stroke:#000" >Plt reconstitution</text>
<text transform="translate(448.8,528.3) rotate(-45)" font-size="9" text-anchor="end">PBS</text>
<text transform="translate(471.3,529) rotate(-45)" font-size="9" text-anchor="end">PVWT</text>
<text transform="translate(493.8,527.1) rotate(-45)" font-size="9" text-anchor="end">P1V1</text>
<text transform="translate(515.6,527.3) rotate(-45)" font-size="9" text-anchor="end">P1V3</text>
<line x1="39.5" y1="576.4" x2="39.5" y2="695.5" stroke="#000" stroke-width="1.45"/>
<line x1="36.9" y1="694.5" x2="39.9" y2="694.5" stroke="#000" stroke-width="1.45"/>
<text x="33.9" y="698.1" font-size="9" text-anchor="end" font-weight="normal" fill="#000" style="stroke:#000" textLength="4.6" lengthAdjust="spacingAndGlyphs" >0</text>
<line x1="36.9" y1="655.5" x2="39.9" y2="655.5" stroke="#000" stroke-width="1.45"/>
<text x="33.9" y="658.8" font-size="9" text-anchor="end" font-weight="normal" fill="#000" style="stroke:#000" textLength="4.6" lengthAdjust="spacingAndGlyphs" >5</text>
<line x1="36.9" y1="616.5" x2="39.9" y2="616.5" stroke="#000" stroke-width="1.45"/>
<text x="33.9" y="619.5" font-size="9" text-anchor="end" font-weight="normal" fill="#000" style="stroke:#000" textLength="9.2" lengthAdjust="spacingAndGlyphs" >10</text>
<line x1="36.9" y1="577.5" x2="39.9" y2="577.5" stroke="#000" stroke-width="1.45"/>
<text x="33.9" y="580.2" font-size="9" text-anchor="end" font-weight="normal" fill="#000" style="stroke:#000" textLength="9.2" lengthAdjust="spacingAndGlyphs" >15</text>
<line x1="38.3" y1="675.5" x2="39.9" y2="675.5" stroke="#000" stroke-width="1.45"/>
<line x1="38.3" y1="635.5" x2="39.9" y2="635.5" stroke="#000" stroke-width="1.45"/>
<line x1="38.3" y1="596.5" x2="39.9" y2="596.5" stroke="#000" stroke-width="1.45"/>
<line x1="55.5" y1="676.4" x2="55.5" y2="681.7" stroke="#000" stroke-width="1.45"/>
<line x1="52.05" y1="676.5" x2="58.05" y2="676.5" stroke="#000" stroke-width="1.45"/>
<rect x="48.8" y="680.7" width="12.5" height="14.2" fill="#000"/>
<line x1="71.5" y1="604" x2="71.5" y2="619.5" stroke="#000" stroke-width="1.45"/>
<line x1="68.85" y1="604.5" x2="74.85" y2="604.5" stroke="#000" stroke-width="1.45"/>
<rect x="65.6" y="618.5" width="12.5" height="76.4" fill="#000"/>
<line x1="99.5" y1="669" x2="99.5" y2="676.7" stroke="#000" stroke-width="1.45"/>
<line x1="96.8" y1="669.5" x2="102.8" y2="669.5" stroke="#000" stroke-width="1.45"/>
<rect x="94.35" y="676.45" width="10.9" height="17.7" fill="#fff" stroke="#000" stroke-width="1.5"/>
<line x1="116.5" y1="597.9" x2="116.5" y2="620.1" stroke="#000" stroke-width="1.45"/>
<line x1="113.65" y1="597.5" x2="119.65" y2="597.5" stroke="#000" stroke-width="1.45"/>
<rect x="111.15" y="619.85" width="11" height="74.3" fill="#fff" stroke="#000" stroke-width="1.5"/>
<line x1="145.5" y1="679" x2="145.5" y2="684.1" stroke="#000" stroke-width="1.45"/>
<line x1="142.25" y1="679.5" x2="148.25" y2="679.5" stroke="#000" stroke-width="1.45"/>
<rect x="139.75" y="683.85" width="11" height="10.3" fill="#b2b2b2" stroke="#000" stroke-width="1.5"/>
<line x1="161.5" y1="645.4" x2="161.5" y2="650.4" stroke="#000" stroke-width="1.45"/>
<line x1="158.05" y1="645.5" x2="164.05" y2="645.5" stroke="#000" stroke-width="1.45"/>
<rect x="155.55" y="650.15" width="11" height="44" fill="#b2b2b2" stroke="#000" stroke-width="1.5"/>
<line x1="36.9" y1="694.5" x2="176" y2="694.5" stroke="#000" stroke-width="1.45"/>
<line x1="63.5" y1="694.9" x2="63.5" y2="697.4" stroke="#000" stroke-width="1.45"/>
<line x1="108.5" y1="694.9" x2="108.5" y2="697.4" stroke="#000" stroke-width="1.45"/>
<line x1="153.5" y1="694.9" x2="153.5" y2="697.4" stroke="#000" stroke-width="1.45"/>
<text x="60.65" y="708.8" font-size="8.8" text-anchor="middle" font-weight="normal" fill="#000" style="stroke:#000" textLength="35.5" lengthAdjust="spacingAndGlyphs" >Con Ova</text>
<text x="60.65" y="722.5" font-size="8.8" text-anchor="middle" font-weight="normal" fill="#000" style="stroke:#000" >PVWT</text>
<text x="105.45" y="708.8" font-size="8.8" text-anchor="middle" font-weight="normal" fill="#000" style="stroke:#000" textLength="35.5" lengthAdjust="spacingAndGlyphs" >Con Ova</text>
<text x="105.45" y="722.5" font-size="8.8" text-anchor="middle" font-weight="normal" fill="#000" style="stroke:#000" >P1V1</text>
<text x="150.35" y="708.8" font-size="8.8" text-anchor="middle" font-weight="normal" fill="#000" style="stroke:#000" textLength="35.5" lengthAdjust="spacingAndGlyphs" >Con Ova</text>
<text x="150.35" y="722.5" font-size="8.8" text-anchor="middle" font-weight="normal" fill="#000" style="stroke:#000" >P1V3</text>
<line x1="52.2" y1="592.5" x2="70.7" y2="592.5" stroke="#000" stroke-width="1.45"/>
<line x1="52.5" y1="589.05" x2="52.5" y2="595.35" stroke="#000" stroke-width="1.45"/>
<line x1="70.5" y1="589.05" x2="70.5" y2="595.35" stroke="#000" stroke-width="1.45"/>
<polygon points="58.8,584.9 59.63,586.46 61.37,586.77 60.14,588.03 60.39,589.78 58.8,589 57.21,589.78 57.46,588.03 56.23,586.77 57.97,586.46" fill="#000"/>
<polygon points="64.1,584.9 64.93,586.46 66.67,586.77 65.44,588.03 65.69,589.78 64.1,589 62.51,589.78 62.76,588.03 61.53,586.77 63.27,586.46" fill="#000"/>
<line x1="70.7" y1="577.5" x2="158.9" y2="577.5" stroke="#000" stroke-width="1.45"/>
<line x1="70.5" y1="573.95" x2="70.5" y2="580.25" stroke="#000" stroke-width="1.45"/>
<line x1="158.5" y1="573.95" x2="158.5" y2="580.25" stroke="#000" stroke-width="1.45"/>
<text x="114.4" y="574.5" font-size="9" text-anchor="middle" font-weight="normal" fill="#000" style="stroke:#000" ><tspan font-style="italic">p</tspan> = 0.1</text>
<line x1="139.7" y1="592.5" x2="158.2" y2="592.5" stroke="#000" stroke-width="1.45"/>
<line x1="139.5" y1="589.05" x2="139.5" y2="595.35" stroke="#000" stroke-width="1.45"/>
<line x1="158.5" y1="589.05" x2="158.5" y2="595.35" stroke="#000" stroke-width="1.45"/>
<polygon points="146.3,584.9 147.13,586.46 148.87,586.77 147.64,588.03 147.89,589.78 146.3,589 144.71,589.78 144.96,588.03 143.73,586.77 145.47,586.46" fill="#000"/>
<polygon points="151.6,584.9 152.43,586.46 154.17,586.77 152.94,588.03 153.19,589.78 151.6,589 150.01,589.78 150.26,588.03 149.03,586.77 150.77,586.46" fill="#000"/>
<text transform="translate(17.4,635.9) rotate(-90)" font-size="10.2" text-anchor="middle" textLength="103" lengthAdjust="spacingAndGlyphs">Rolling leukocytes (15s)</text>
<line x1="207.5" y1="576.7" x2="207.5" y2="695.2" stroke="#000" stroke-width="1.45"/>
<line x1="204.4" y1="694.5" x2="207.4" y2="694.5" stroke="#000" stroke-width="1.45"/>
<text x="203.1" y="697.8" font-size="9" text-anchor="end" font-weight="normal" fill="#000" style="stroke:#000" textLength="4.6" lengthAdjust="spacingAndGlyphs" >0</text>
<line x1="204.4" y1="671.5" x2="207.4" y2="671.5" stroke="#000" stroke-width="1.45"/>
<text x="203.1" y="674.34" font-size="9" text-anchor="end" font-weight="normal" fill="#000" style="stroke:#000" textLength="9.2" lengthAdjust="spacingAndGlyphs" >20</text>
<line x1="204.4" y1="647.5" x2="207.4" y2="647.5" stroke="#000" stroke-width="1.45"/>
<text x="203.1" y="650.88" font-size="9" text-anchor="end" font-weight="normal" fill="#000" style="stroke:#000" textLength="9.2" lengthAdjust="spacingAndGlyphs" >40</text>
<line x1="204.4" y1="624.5" x2="207.4" y2="624.5" stroke="#000" stroke-width="1.45"/>
<text x="203.1" y="627.42" font-size="9" text-anchor="end" font-weight="normal" fill="#000" style="stroke:#000" textLength="9.2" lengthAdjust="spacingAndGlyphs" >60</text>
<line x1="204.4" y1="600.5" x2="207.4" y2="600.5" stroke="#000" stroke-width="1.45"/>
<text x="203.1" y="603.96" font-size="9" text-anchor="end" font-weight="normal" fill="#000" style="stroke:#000" textLength="9.2" lengthAdjust="spacingAndGlyphs" >80</text>
<line x1="204.4" y1="577.5" x2="207.4" y2="577.5" stroke="#000" stroke-width="1.45"/>
<text x="203.1" y="580.5" font-size="9" text-anchor="end" font-weight="normal" fill="#000" style="stroke:#000" textLength="13.8" lengthAdjust="spacingAndGlyphs" >100</text>
<line x1="309.5" y1="576.7" x2="309.5" y2="695.2" stroke="#000" stroke-width="1.45"/>
<line x1="309.8" y1="694.5" x2="312.8" y2="694.5" stroke="#000" stroke-width="1.45"/>
<text x="314.2" y="697.8" font-size="9" text-anchor="start" font-weight="normal" fill="#000" style="stroke:#000" textLength="4.6" lengthAdjust="spacingAndGlyphs" >0</text>
<line x1="309.8" y1="655.5" x2="312.8" y2="655.5" stroke="#000" stroke-width="1.45"/>
<text x="314.2" y="658.7" font-size="9" text-anchor="start" font-weight="normal" fill="#000" style="stroke:#000" textLength="9.2" lengthAdjust="spacingAndGlyphs" >50</text>
<line x1="309.8" y1="616.5" x2="312.8" y2="616.5" stroke="#000" stroke-width="1.45"/>
<text x="314.2" y="619.6" font-size="9" text-anchor="start" font-weight="normal" fill="#000" style="stroke:#000" textLength="13.8" lengthAdjust="spacingAndGlyphs" >100</text>
<line x1="309.8" y1="577.5" x2="312.8" y2="577.5" stroke="#000" stroke-width="1.45"/>
<text x="314.2" y="580.5" font-size="9" text-anchor="start" font-weight="normal" fill="#000" style="stroke:#000" textLength="13.8" lengthAdjust="spacingAndGlyphs" >150</text>
<line x1="204.4" y1="694.5" x2="310" y2="694.5" stroke="#000" stroke-width="1.45"/>
<line x1="242.5" y1="694.6" x2="242.5" y2="697.1" stroke="#000" stroke-width="1.45"/>
<line x1="277.5" y1="694.6" x2="277.5" y2="697.1" stroke="#000" stroke-width="1.45"/>
<line x1="170" y1="695.5" x2="176" y2="695.5" stroke="#000" stroke-width="1.45"/>
<rect x="216" y="577.3" width="18.2" height="9.1" fill="#262626"/>
<rect x="216" y="586.4" width="18.2" height="12.5" fill="#3c3c3c"/>
<rect x="216" y="598.9" width="18.2" height="16.3" fill="#5a5a5a"/>
<rect x="216" y="615.2" width="18.2" height="49.8" fill="#808080"/>
<rect x="216" y="665" width="18.2" height="29.6" fill="#a6a6a6"/>
<rect x="215.8" y="631.4" width="18.6" height="2.9" fill="#000"/>
<rect x="250.5" y="577.3" width="18.4" height="15.5" fill="#262626"/>
<rect x="250.5" y="592.8" width="18.4" height="18.5" fill="#3c3c3c"/>
<rect x="250.5" y="611.3" width="18.4" height="27.5" fill="#5a5a5a"/>
<rect x="250.5" y="638.8" width="18.4" height="33.2" fill="#808080"/>
<rect x="250.5" y="672" width="18.4" height="22.6" fill="#a6a6a6"/>
<rect x="250.3" y="611.9" width="18.8" height="2.9" fill="#000"/>
<rect x="285" y="577.3" width="18.4" height="12.8" fill="#262626"/>
<rect x="285" y="590.1" width="18.4" height="26.9" fill="#3c3c3c"/>
<rect x="285" y="617" width="18.4" height="24.5" fill="#5a5a5a"/>
<rect x="285" y="641.5" width="18.4" height="34.3" fill="#808080"/>
<rect x="285" y="675.8" width="18.4" height="18.8" fill="#a6a6a6"/>
<rect x="284.8" y="602.8" width="18.8" height="2.9" fill="#000"/>
<text x="225.4" y="584.7" font-size="6.9" text-anchor="middle" font-weight="bold" fill="#fff" style="stroke:#fff" textLength="14.28" lengthAdjust="spacingAndGlyphs" >&gt;200</text>
<text x="225.4" y="597.2" font-size="6.9" text-anchor="middle" font-weight="bold" fill="#fff" style="stroke:#fff" textLength="14.28" lengthAdjust="spacingAndGlyphs" >&lt;200</text>
<text x="225.4" y="609.9" font-size="6.9" text-anchor="middle" font-weight="bold" fill="#fff" style="stroke:#fff" textLength="14.28" lengthAdjust="spacingAndGlyphs" >&lt;150</text>
<text x="225.4" y="645.4" font-size="6.9" text-anchor="middle" font-weight="bold" fill="#fff" style="stroke:#fff" textLength="14.28" lengthAdjust="spacingAndGlyphs" >&lt;100</text>
<text x="225.4" y="684.4" font-size="6.9" text-anchor="middle" font-weight="bold" fill="#fff" style="stroke:#fff" textLength="10.76" lengthAdjust="spacingAndGlyphs" >&lt;50</text>
<polygon points="259.7,605.2 260.56,606.82 262.36,607.13 261.08,608.45 261.35,610.27 259.7,609.46 258.05,610.27 258.32,608.45 257.04,607.13 258.84,606.82" fill="#fff"/>
<polygon points="291.4,595.8 292.26,597.42 294.06,597.73 292.78,599.05 293.05,600.87 291.4,600.06 289.75,600.87 290.02,599.05 288.74,597.73 290.54,597.42" fill="#fff"/>
<polygon points="297,595.8 297.86,597.42 299.66,597.73 298.38,599.05 298.65,600.87 297,600.06 295.35,600.87 295.62,599.05 294.34,597.73 296.14,597.42" fill="#fff"/>
<text transform="translate(189.1,635.6) rotate(-90)" font-size="10.2" text-anchor="middle" textLength="108.5" lengthAdjust="spacingAndGlyphs">Rolling speed (% of cells)</text>
<text transform="translate(332.2,635.4) rotate(90)" font-size="9.2" text-anchor="middle" textLength="90.6" lengthAdjust="spacingAndGlyphs">Median speed (µm/s)</text>
<text x="224.6" y="715.8" font-size="8.8" text-anchor="middle" font-weight="normal" fill="#000" style="stroke:#000" >PVWT</text>
<text x="259.2" y="715.8" font-size="8.8" text-anchor="middle" font-weight="normal" fill="#000" style="stroke:#000" >P1V1</text>
<text x="293.7" y="715.8" font-size="8.8" text-anchor="middle" font-weight="normal" fill="#000" style="stroke:#000" >P1V3</text>
<line x1="383.5" y1="577" x2="383.5" y2="695.5" stroke="#000" stroke-width="1.45"/>
<line x1="380.9" y1="694.5" x2="383.9" y2="694.5" stroke="#000" stroke-width="1.45"/>
<text x="377.9" y="698.1" font-size="9" text-anchor="end" font-weight="normal" fill="#000" style="stroke:#000" textLength="4.6" lengthAdjust="spacingAndGlyphs" >0</text>
<line x1="380.9" y1="671.5" x2="383.9" y2="671.5" stroke="#000" stroke-width="1.45"/>
<text x="377.9" y="674.64" font-size="9" text-anchor="end" font-weight="normal" fill="#000" style="stroke:#000" textLength="11.5" lengthAdjust="spacingAndGlyphs" >0.5</text>
<line x1="380.9" y1="647.5" x2="383.9" y2="647.5" stroke="#000" stroke-width="1.45"/>
<text x="377.9" y="651.18" font-size="9" text-anchor="end" font-weight="normal" fill="#000" style="stroke:#000" textLength="11.5" lengthAdjust="spacingAndGlyphs" >1.0</text>
<line x1="380.9" y1="624.5" x2="383.9" y2="624.5" stroke="#000" stroke-width="1.45"/>
<text x="377.9" y="627.72" font-size="9" text-anchor="end" font-weight="normal" fill="#000" style="stroke:#000" textLength="11.5" lengthAdjust="spacingAndGlyphs" >1.5</text>
<line x1="380.9" y1="601.5" x2="383.9" y2="601.5" stroke="#000" stroke-width="1.45"/>
<text x="377.9" y="604.26" font-size="9" text-anchor="end" font-weight="normal" fill="#000" style="stroke:#000" textLength="11.5" lengthAdjust="spacingAndGlyphs" >2.0</text>
<line x1="380.9" y1="577.5" x2="383.9" y2="577.5" stroke="#000" stroke-width="1.45"/>
<text x="377.9" y="580.8" font-size="9" text-anchor="end" font-weight="normal" fill="#000" style="stroke:#000" textLength="11.5" lengthAdjust="spacingAndGlyphs" >2.5</text>
<line x1="398.5" y1="686.5" x2="398.5" y2="690.8" stroke="#000" stroke-width="1.45"/>
<line x1="395.35" y1="686.5" x2="401.35" y2="686.5" stroke="#000" stroke-width="1.45"/>
<rect x="392.1" y="689.8" width="12.5" height="5.1" fill="#000"/>
<line x1="415.5" y1="599" x2="415.5" y2="618.5" stroke="#000" stroke-width="1.45"/>
<line x1="412.65" y1="599.5" x2="418.65" y2="599.5" stroke="#000" stroke-width="1.45"/>
<rect x="409.6" y="617.5" width="12.1" height="77.4" fill="#000"/>
<line x1="459.5" y1="677.4" x2="459.5" y2="684.1" stroke="#000" stroke-width="1.45"/>
<line x1="456.45" y1="677.5" x2="462.45" y2="677.5" stroke="#000" stroke-width="1.45"/>
<rect x="454.15" y="683.85" width="10.6" height="10.3" fill="#fff" stroke="#000" stroke-width="1.5"/>
<line x1="487.5" y1="689.8" x2="487.5" y2="692.4" stroke="#000" stroke-width="1.45"/>
<line x1="484.1" y1="689.5" x2="490.1" y2="689.5" stroke="#000" stroke-width="1.45"/>
<rect x="481.95" y="692.15" width="10.3" height="2" fill="#b2b2b2" stroke="#000" stroke-width="1.5"/>
<line x1="504.5" y1="667.3" x2="504.5" y2="677.4" stroke="#000" stroke-width="1.45"/>
<line x1="501" y1="667.5" x2="507" y2="667.5" stroke="#000" stroke-width="1.45"/>
<rect x="498.85" y="677.15" width="10.3" height="17" fill="#b2b2b2" stroke="#000" stroke-width="1.5"/>
<line x1="380.9" y1="694.5" x2="520" y2="694.5" stroke="#000" stroke-width="1.45"/>
<line x1="407.5" y1="694.9" x2="407.5" y2="697.4" stroke="#000" stroke-width="1.45"/>
<line x1="451.5" y1="694.9" x2="451.5" y2="697.4" stroke="#000" stroke-width="1.45"/>
<line x1="496.5" y1="694.9" x2="496.5" y2="697.4" stroke="#000" stroke-width="1.45"/>
<text x="408.4" y="708.8" font-size="8.8" text-anchor="middle" font-weight="normal" fill="#000" style="stroke:#000" textLength="34.6" lengthAdjust="spacingAndGlyphs" >Con Ova</text>
<text x="408.4" y="722.6" font-size="8.8" text-anchor="middle" font-weight="normal" fill="#000" style="stroke:#000" >PVWT</text>
<text x="452.75" y="708.8" font-size="8.8" text-anchor="middle" font-weight="normal" fill="#000" style="stroke:#000" textLength="34.6" lengthAdjust="spacingAndGlyphs" >Con Ova</text>
<text x="452.75" y="722.6" font-size="8.8" text-anchor="middle" font-weight="normal" fill="#000" style="stroke:#000" >P1V1</text>
<text x="497.05" y="708.8" font-size="8.8" text-anchor="middle" font-weight="normal" fill="#000" style="stroke:#000" textLength="34.6" lengthAdjust="spacingAndGlyphs" >Con Ova</text>
<text x="497.05" y="722.6" font-size="8.8" text-anchor="middle" font-weight="normal" fill="#000" style="stroke:#000" >P1V3</text>
<line x1="396.5" y1="592.5" x2="414.7" y2="592.5" stroke="#000" stroke-width="1.45"/>
<line x1="396.5" y1="589.55" x2="396.5" y2="595.85" stroke="#000" stroke-width="1.45"/>
<line x1="414.5" y1="589.55" x2="414.5" y2="595.85" stroke="#000" stroke-width="1.45"/>
<polygon points="405.6,585.4 406.43,586.96 408.17,587.27 406.94,588.53 407.19,590.28 405.6,589.5 404.01,590.28 404.26,588.53 403.03,587.27 404.77,586.96" fill="#000"/>
<line x1="414.7" y1="584.5" x2="459.7" y2="584.5" stroke="#000" stroke-width="1.45"/>
<line x1="414.5" y1="581.45" x2="414.5" y2="587.75" stroke="#000" stroke-width="1.45"/>
<line x1="459.5" y1="581.45" x2="459.5" y2="587.75" stroke="#000" stroke-width="1.45"/>
<polygon points="437.2,577.3 438.03,578.86 439.77,579.17 438.54,580.43 438.79,582.18 437.2,581.4 435.61,582.18 435.86,580.43 434.63,579.17 436.37,578.86" fill="#000"/>
<line x1="414.7" y1="576.5" x2="503.1" y2="576.5" stroke="#000" stroke-width="1.45"/>
<line x1="414.5" y1="572.95" x2="414.5" y2="579.25" stroke="#000" stroke-width="1.45"/>
<line x1="503.5" y1="572.95" x2="503.5" y2="579.25" stroke="#000" stroke-width="1.45"/>
<polygon points="458.9,568.8 459.73,570.36 461.47,570.67 460.24,571.93 460.49,573.68 458.9,572.9 457.31,573.68 457.56,571.93 456.33,570.67 458.07,570.36" fill="#000"/>
<text transform="translate(359.1,636.65) rotate(-90)" font-size="10.2" text-anchor="middle" textLength="110.3" lengthAdjust="spacingAndGlyphs">Adhering leukocytes (15s)</text>
</svg>
</body></html>
